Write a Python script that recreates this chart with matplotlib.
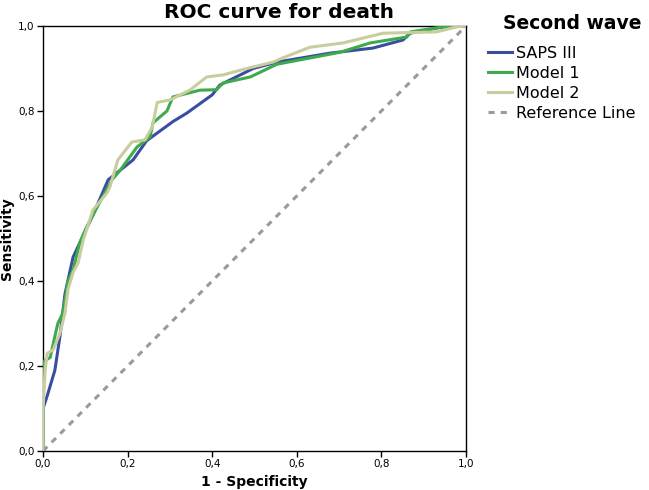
import matplotlib
matplotlib.use("Agg")
import matplotlib.pyplot as plt
from matplotlib.ticker import FuncFormatter

# ---- data ----
saps_fpr = [0.0, 0.0, 0.01, 0.028, 0.04, 0.052, 0.071, 0.087, 0.12, 0.154, 0.213, 0.245,
            0.307, 0.34, 0.40, 0.418, 0.497, 0.553, 0.678, 0.78, 0.851, 0.868, 0.93, 0.962, 1.0]
saps_tpr = [0.0, 0.10, 0.13, 0.19, 0.27, 0.37, 0.456, 0.49, 0.56, 0.638, 0.685, 0.73,
            0.775, 0.795, 0.838, 0.861, 0.90, 0.915, 0.936, 0.948, 0.967, 0.983, 0.995, 1.0, 1.0]

m1_fpr = [0.0, 0.0, 0.017, 0.028, 0.035, 0.047, 0.052, 0.059, 0.071, 0.087, 0.10, 0.128,
          0.163, 0.182, 0.222, 0.253, 0.26, 0.293, 0.307, 0.371, 0.41, 0.426, 0.49, 0.553,
          0.702, 0.773, 0.86, 0.868, 0.946, 1.0]
m1_tpr = [0.0, 0.21, 0.22, 0.27, 0.30, 0.325, 0.355, 0.40, 0.426, 0.49, 0.52, 0.574,
          0.638, 0.66, 0.715, 0.739, 0.772, 0.80, 0.833, 0.849, 0.85, 0.866, 0.88, 0.910,
          0.938, 0.96, 0.974, 0.986, 0.998, 1.0]

m2_fpr = [0.0, 0.0, 0.005, 0.01, 0.024, 0.04, 0.052, 0.059, 0.071, 0.083, 0.095, 0.118,
          0.151, 0.158, 0.177, 0.21, 0.241, 0.258, 0.27, 0.30, 0.347, 0.387, 0.426, 0.482,
          0.544, 0.567, 0.631, 0.709, 0.804, 0.93, 0.979, 1.0]
m2_tpr = [0.0, 0.096, 0.19, 0.23, 0.238, 0.277, 0.325, 0.38, 0.42, 0.443, 0.496, 0.567,
          0.607, 0.621, 0.685, 0.727, 0.732, 0.762, 0.82, 0.826, 0.849, 0.88, 0.885, 0.90,
          0.915, 0.925, 0.95, 0.96, 0.983, 0.986, 0.998, 1.0]

ref_x = [0.0, 1.0]
ref_y = [0.0, 1.0]

labels = ["SAPS III", "Model 1", "Model 2", "Reference Line"]
colors = ["#3a4d9f", "#3daa4c", "#c9cc9c", "#9a9a9a"]

fig = plt.figure(figsize=(6.49, 4.90), dpi=100)
ax = fig.add_axes([0.0663, 0.0796, 0.6517, 0.8674])

ax.plot(ref_x, ref_y, color=colors[3], lw=2.2, linestyle=(0, (2, 2)), label=labels[3], zorder=1)
ax.plot(saps_fpr, saps_tpr, color=colors[0], lw=2.2, label=labels[0], zorder=2)
ax.plot(m1_fpr, m1_tpr, color=colors[1], lw=2.2, label=labels[1], zorder=3)
ax.plot(m2_fpr, m2_tpr, color=colors[2], lw=2.2, label=labels[2], zorder=4)

ax.set_xlim(0, 1)
ax.set_ylim(0, 1)
ticks = [0.0, 0.2, 0.4, 0.6, 0.8, 1.0]
ax.set_xticks(ticks)
ax.set_yticks(ticks)
fmt = FuncFormatter(lambda v, p: f"{v:.1f}".replace(".", ","))
ax.xaxis.set_major_formatter(fmt)
ax.yaxis.set_major_formatter(fmt)
ax.tick_params(direction="out", length=4, width=1, labelsize=7.5, pad=2)
for s in ax.spines.values():
    s.set_linewidth(1.0)

ax.set_xlabel("1 - Specificity", fontsize=10, fontweight="bold", labelpad=4)
ax.set_ylabel("Sensitivity", fontsize=10, fontweight="bold", labelpad=3)
fig.text(0.43, 0.975, "ROC curve for death", fontsize=14.5, fontweight="bold",
         ha="center", va="center")

h, l = ax.get_legend_handles_labels()
order = [1, 2, 3, 0]
fig.text(0.775, 0.953, "Second wave", fontsize=13.5, fontweight="bold", va="center", ha="left")
fig.legend([h[i] for i in order], [l[i] for i in order], loc="upper left",
           bbox_to_anchor=(0.742, 0.92), frameon=False, fontsize=11.5,
           handlelength=1.5, handletextpad=0.25, labelspacing=0.32, borderaxespad=0)

fig.savefig("out.png", dpi=100)
